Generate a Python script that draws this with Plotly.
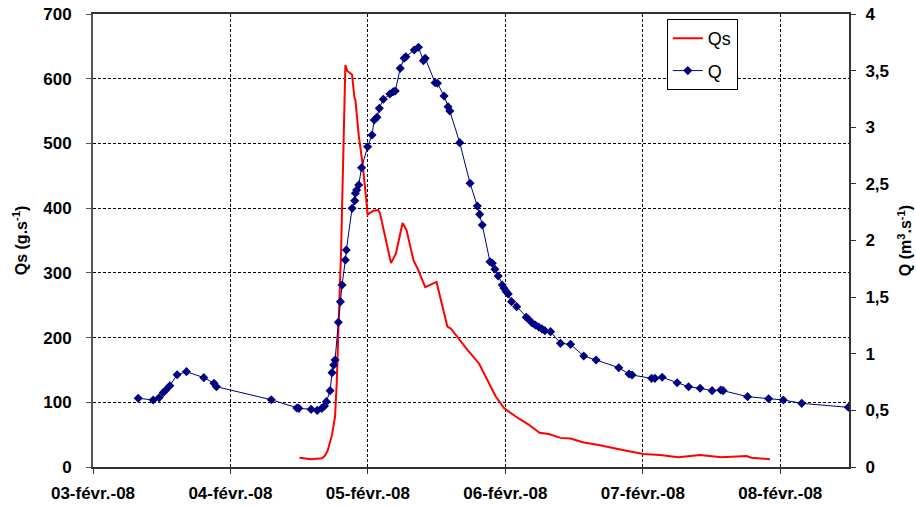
import pandas as pd
import plotly.graph_objects as go

# Time in days since 03-févr.-08 00:00
q_days = [0.329, 0.438, 0.481, 0.510, 0.530, 0.559, 0.612, 0.680, 0.806, 0.880, 0.898,
          1.297, 1.483, 1.497, 1.587, 1.631, 1.664, 1.684, 1.698, 1.725, 1.739, 1.751, 1.761,
          1.785, 1.800, 1.812, 1.836, 1.843, 1.885, 1.904, 1.909, 1.918, 1.933, 1.954, 1.998,
          2.030, 2.046, 2.066, 2.083, 2.112, 2.160, 2.184, 2.199, 2.235, 2.264, 2.276, 2.337,
          2.368, 2.404, 2.417, 2.489, 2.506, 2.554, 2.583, 2.596, 2.668, 2.743, 2.796, 2.813,
          2.832, 2.888, 2.905, 2.924, 2.948, 2.977, 2.990, 3.007, 3.021, 3.045, 3.082, 3.152,
          3.166, 3.195, 3.218, 3.242, 3.265, 3.287, 3.329, 3.401, 3.474, 3.570, 3.660, 3.825,
          3.900, 3.922, 4.064, 4.088, 4.141, 4.250, 4.333, 4.417, 4.504, 4.567, 4.584, 4.762,
          4.915, 5.022, 5.156, 5.495]
q_values = [0.607, 0.592, 0.612, 0.656, 0.680, 0.718, 0.815, 0.842, 0.789, 0.739, 0.709,
            0.594, 0.521, 0.518, 0.509, 0.500, 0.518, 0.539, 0.577, 0.674, 0.833, 0.901, 0.945,
            1.278, 1.460, 1.607, 1.828, 1.916, 2.284, 2.352, 2.417, 2.446, 2.490, 2.643, 2.828,
            2.932, 3.064, 3.088, 3.167, 3.247, 3.294, 3.314, 3.320, 3.520, 3.609, 3.623, 3.682,
            3.706, 3.588, 3.609, 3.393, 3.388, 3.276, 3.181, 3.143, 2.864, 2.505, 2.305, 2.231,
            2.137, 1.813, 1.799, 1.746, 1.687, 1.607, 1.578, 1.548, 1.528, 1.460, 1.416, 1.322,
            1.307, 1.272, 1.254, 1.236, 1.220, 1.204, 1.195, 1.092, 1.083, 0.980, 0.945, 0.877,
            0.821, 0.812, 0.783, 0.783, 0.792, 0.744, 0.709, 0.695, 0.674, 0.680, 0.674, 0.621,
            0.603, 0.592, 0.562, 0.527]

qs_days = [1.502, 1.587, 1.667, 1.690, 1.708, 1.739, 1.761, 1.773, 1.787, 1.805, 1.816,
           1.836, 1.850, 1.885, 1.901, 1.909, 1.933, 1.962, 1.986, 1.998, 2.039, 2.059, 2.075,
           2.088, 2.168, 2.204, 2.252, 2.281, 2.332, 2.361, 2.417, 2.499, 2.578, 2.603, 2.724,
           2.808, 2.893, 2.930, 2.960, 2.990, 3.075, 3.166, 3.249, 3.316, 3.401, 3.474, 3.570,
           3.679, 3.880, 4.004, 4.125, 4.258, 4.415, 4.572, 4.754, 4.790, 4.925]
qs_values = [14.4, 11.9, 13.4, 18, 26, 50, 78, 129, 222, 335, 438,
             621, 612, 606, 572, 567, 513, 467, 418, 390, 396, 397, 397,
             392, 315, 330, 377, 366, 319, 307, 278, 286, 217, 214, 181,
             160, 123, 109, 100, 91, 78, 66, 53, 51, 45, 44, 38,
             34, 25, 20, 18.5, 15, 18.5, 15, 17, 14.4, 11.9]

x_tick_dates = ["2008-02-03", "2008-02-04", "2008-02-05", "2008-02-06", "2008-02-07", "2008-02-08"]
x_tick_labels = ["03-févr.-08", "04-févr.-08", "05-févr.-08", "06-févr.-08", "07-févr.-08", "08-févr.-08"]

t0 = pd.Timestamp("2008-02-03")
q_time = t0 + pd.to_timedelta(q_days, unit="D")
qs_time = t0 + pd.to_timedelta(qs_days, unit="D")

FONT = "Liberation Sans, Arial, sans-serif"
TICKFONT = dict(family=FONT, size=17, color="black", weight="bold")

fig = go.Figure()
fig.add_trace(go.Scatter(
    x=qs_time, y=qs_values, name="Qs", mode="lines",
    line=dict(color="#FF0000", width=2),
    legendgroup="a", yaxis="y"))
fig.add_trace(go.Scatter(
    x=q_time, y=q_values, name="Q", mode="lines+markers",
    line=dict(color="#000080", width=1),
    marker=dict(symbol="diamond", size=7, color="#000080"),
    legendgroup="b", yaxis="y2"))

fig.update_layout(
    width=916, height=506,
    margin=dict(l=93, r=67, t=14, b=39, autoexpand=False),
    paper_bgcolor="white", plot_bgcolor="white",
    separators=", ",
    font=dict(family=FONT, size=16, color="black"),
    showlegend=True,
    legend=dict(
        x=0.759, y=0.989, xanchor="left", yanchor="top",
        bgcolor="white", bordercolor="black", borderwidth=1,
        font=dict(family=FONT, size=18, color="black", weight="normal"),
        tracegroupgap=6, itemwidth=30,
    ),
    xaxis=dict(
        type="date",
        range=["2008-02-03 00:00", "2008-02-08 12:00"],
        tickvals=x_tick_dates, ticktext=x_tick_labels,
        showgrid=True, gridcolor="black", gridwidth=1, griddash="3px,2px",
        showline=True, linecolor="#333333", linewidth=2, mirror=True,
        ticks="outside", ticklen=5, tickcolor="#333333",
        tickfont=TICKFONT,
        ticklabelstandoff=5,
        zeroline=False, automargin=False,
    ),
    yaxis=dict(
        range=[0, 700], dtick=100, tick0=0,
        showgrid=True, gridcolor="black", gridwidth=1, griddash="3px,2px",
        showline=True, linecolor="#555555", linewidth=2,
        ticks="outside", ticklen=5, tickcolor="#555555",
        tickfont=TICKFONT,
        ticklabelstandoff=11,
        title=dict(text="Qs (g.s<sup>-1</sup>)", standoff=12,
                   font=dict(family=FONT, size=16, color="black", weight="bold")),
        zeroline=False, automargin=False,
    ),
    yaxis2=dict(
        overlaying="y", side="right",
        range=[0, 4], dtick=0.5, tick0=0,
        showgrid=False,
        showline=True, linecolor="#333333", linewidth=2,
        ticks="outside", ticklen=5, tickcolor="#333333",
        tickfont=TICKFONT,
        ticklabelstandoff=6,
        title=dict(text="Q (m<sup>3</sup>.s<sup>-1</sup>)", standoff=12,
                   font=dict(family=FONT, size=16, color="black", weight="bold")),
        zeroline=False, automargin=False,
    ),
)

fig.write_html("out.html")
